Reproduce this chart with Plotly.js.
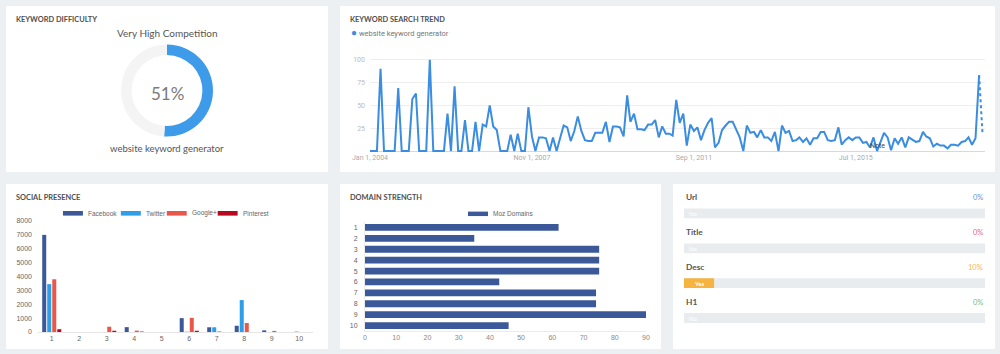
<!DOCTYPE html>
<html><head><meta charset="utf-8">
<script src="https://cdn.plot.ly/plotly-3.0.1.min.js"></script>
<style>
html,body{margin:0;padding:0;background:#edf0f3;width:1000px;height:354px;overflow:hidden;}
.panel{position:absolute;background:#fff;}
</style></head><body>
<div id="p1" class="panel" style="left:6px;top:6px;width:322px;height:166px"></div>
<div id="p2" class="panel" style="left:340px;top:6px;width:655px;height:166px"></div>
<div id="p3" class="panel" style="left:6px;top:184px;width:322px;height:165px"></div>
<div id="p4" class="panel" style="left:340px;top:184px;width:321px;height:165px"></div>
<div id="p5" class="panel" style="left:673px;top:184px;width:322px;height:165px"></div>
<script>
// ---------------- DATA ----------------
const keyword = 'website keyword generator';
const difficultyValue = 51;
const difficultyLabel = 'Very High Competition';

const trendStart = {year: 2004, month: 1};
const trendValues = [
 0,0,0,90,0,0,0,0,69,0,0,0,57,63,0,0,0,100,0,0,0,0,41,0,71,0,0,34,0,0,
 32,0,29,27,50,27,23,0,0,0,18,0,19,0,0,48,16,0,15,15,14,0,15,0,14,28,26,11,22,38,
 22,12,11,11,20,20,20,32,10,27,27,26,16,61,32,41,24,24,23,29,29,34,15,27,19,19,17,56,31,41,
 6,29,22,26,12,23,31,36,4,9,23,28,32,32,23,15,0,28,20,21,15,23,15,15,11,21,0,28,20,22,
 11,12,15,10,14,7,14,14,21,21,12,11,12,26,7,12,15,12,15,15,9,10,4,15,0,10,20,15,1,14,
 8,15,4,15,12,10,11,21,16,14,5,8,6,6,3,7,7,6,10,11,15,7,14,83,18
];
const trendPartialCount = 1; // last value is partial (dotted)
const trendTickDates = ['2004-01-01','2007-11-01','2011-09-01','2015-07-01'];
const trendTickLabels = ['Jan 1, 2004','Nov 1, 2007','Sep 1, 2011','Jul 1, 2015'];
const trendNoteDate = '2016-01-01';

const socialCategories = ['1','2','3','4','5','6','7','8','9','10'];
const socialFacebook  = [7000,0,0,350,0,1000,340,450,120,0];
const socialTwitter   = [3450,0,0,0,0,20,340,2300,0,30];
const socialGooglePlus= [3800,0,380,100,0,1020,40,650,80,0];
const socialPinterest = [200,0,90,30,0,90,0,0,0,0];
const socialNames = ['Facebook','Twitter','Google+','Pinterest'];

const domainCategories = ['1','2','3','4','5','6','7','8','9','10'];
const domainValues = [62,35,75,75,75,43,74,74,90,46];
const domainSeriesName = 'Moz Domains';

const seoLabels = ['Url','Title','Desc','H1'];
const seoPercent = [0,0,10,0];
const seoAnswers = ['No','No','Yes','No'];

// ---------------- STYLE ----------------
const FONT = 'Lato, "Open Sans", sans-serif';
const CJS = '"Liberation Sans", Arial, sans-serif';
const titleFont = {family: FONT, size: 7.4, color: '#505050', weight: 700};
const socialColors = ['#3b5998','#2d9ee8','#e9574a','#b8081f'];
const seoColors = ['#5b9bd8','#e8608d','#f5b94a','#7dba7d'];
const cfg = {staticPlot: true, displayModeBar: false};

function panelTitle(text, W, H) {
  return {text: text, font: titleFont, x: 10/W, xanchor: 'left', y: (H-13)/H, yanchor: 'middle'};
}
function pxToPaper(m, W, H, px, py) {
  return {x: (px - m.l)/(W - m.l - m.r), y: (H - m.b - py)/(H - m.t - m.b)};
}

// ---------------- PANEL 1: donut ----------------
(function(){
  const W = 322, H = 166;
  const cx = 161, cy = 84.5, r = 46;
  Plotly.newPlot('p1', [{
    type: 'pie', values: [difficultyValue, 100 - difficultyValue],
    marker: {colors: ['#3d9be9', '#f4f4f4'], line: {width: 0}},
    hole: 0.77, sort: false, direction: 'clockwise', rotation: 0,
    textinfo: 'none', hoverinfo: 'none', showlegend: false,
    domain: {x: [(cx-r)/W, (cx+r)/W], y: [(H-cy-r)/H, (H-cy+r)/H]}
  }], {
    width: W, height: H, margin: {l:0,r:0,t:0,b:0},
    paper_bgcolor: '#fff', title: panelTitle('KEYWORD DIFFICULTY', W, H),
    annotations: [
      {text: difficultyLabel, x: cx/W, y: (H-27)/H, xref:'paper', yref:'paper', yanchor:'middle', showarrow:false,
       font: {family: FONT, size: 10, color: '#555'}},
      {text: difficultyValue + '%', x: cx/W, y: (H-cy-2.5)/H, xref:'paper', yref:'paper', yanchor:'middle', showarrow:false,
       font: {family: FONT, size: 17, color: '#7a7a7a'}},
      {text: keyword, x: cx/W, y: (H-142)/H, xref:'paper', yref:'paper', yanchor:'middle', showarrow:false,
       font: {family: FONT, size: 9.5, color: '#555'}}
    ]
  }, cfg);
})();

// ---------------- PANEL 2: trend ----------------
(function(){
  const W = 655, H = 166;
  const m = {l: 30, r: 10, t: 51.3, b: 20.1};
  const dates = trendValues.map((v, i) => {
    const tot = trendStart.month - 1 + i;
    const y = trendStart.year + Math.floor(tot/12), mo = tot % 12 + 1;
    return y + '-' + String(mo).padStart(2,'0') + '-01';
  });
  const nSolid = trendValues.length - trendPartialCount;
  const lineColor = '#3a8de0';
  const lg = pxToPaper(m, W, H, 9, 27);
  Plotly.newPlot('p2', [
    {type:'scatter', mode:'lines', x: dates.slice(0, nSolid), y: trendValues.slice(0, nSolid),
     line: {color: lineColor, width: 2}, name: keyword, showlegend: false, hoverinfo:'none'},
    {type:'scatter', mode:'lines', x: dates.slice(nSolid-1), y: trendValues.slice(nSolid-1),
     line: {color: lineColor, width: 2, dash: 'dot'}, showlegend: false, hoverinfo:'none'}
  ], {
    width: W, height: H, margin: m, paper_bgcolor:'#fff', plot_bgcolor:'#fff',
    title: panelTitle('KEYWORD SEARCH TREND', W, H),
    xaxis: {type:'date', range:['2004-01-01','2018-07-22'], tickvals: trendTickDates, ticktext: trendTickLabels,
            showgrid:false, zeroline:false, showline:false, ticks:'',
            tickfont:{family:'Roboto, sans-serif', size:7, color:'#aaa'}},
    yaxis: {range:[-1,103], tickvals:[25,50,75,100], gridcolor:'#eeeeee', gridwidth:1,
            zeroline:true, zerolinecolor:'#d9d9d9', zerolinewidth:1, showline:false, ticks:'',
            ticklabelstandoff: 4, tickfont:{family:'Roboto, sans-serif', size:7, color:'#bbb'}},
    annotations: [
      {text: '<span style="color:' + lineColor + ';font-size:10px">●</span> ' + keyword, xref:'paper', yref:'paper',
       x: lg.x, y: lg.y, xanchor:'left', yanchor:'middle', showarrow:false,
       font:{family:'Roboto, sans-serif', size:7.5, color:'#777'}},
      {text:'Note', xref:'x', yref:'y', x: trendNoteDate, y: 6, yanchor:'middle', showarrow:false,
       font:{family:'Roboto, sans-serif', size:7, color:'#444'}}
    ]
  }, cfg);
})();

// ---------------- PANEL 3: social presence ----------------
(function(){
  const W = 322, H = 165;
  const m = {l: 32, r: 14.5, t: 36.7, b: 17};
  const series = [socialFacebook, socialTwitter, socialGooglePlus, socialPinterest];
  const traces = series.map((vals, i) => ({
    type:'bar', x: socialCategories, y: vals, name: socialNames[i],
    marker:{color: socialColors[i]}, showlegend:false, hoverinfo:'none'
  }));
  const legendBoxX = [57, 115, 161, 212];
  const shapes = [], annotations = [];
  legendBoxX.forEach((bx, i) => {
    const a = pxToPaper(m, W, H, bx, 26.7), b = pxToPaper(m, W, H, bx + 20, 31.3);
    shapes.push({type:'rect', xref:'paper', yref:'paper', x0:a.x, x1:b.x, y0:b.y, y1:a.y,
                 fillcolor: socialColors[i], line:{width:0}});
    const t = pxToPaper(m, W, H, bx + 23, 29);
    annotations.push({text: socialNames[i], xref:'paper', yref:'paper', x:t.x, y:t.y,
                      xanchor:'left', yanchor:'middle', showarrow:false,
                      font:{family:CJS, size:6.5, color:'#666'}});
  });
  Plotly.newPlot('p3', traces, {
    width: W, height: H, margin: m, paper_bgcolor:'#fff', plot_bgcolor:'#fff',
    title: panelTitle('SOCIAL PRESENCE', W, H),
    barmode:'group', bargap: 0.27, bargroupgap: 0.2,
    xaxis:{type:'category', showgrid:false, zeroline:false, showline:true, linecolor:'#e6e6e6', ticks:'',
           tickfont:{family:CJS, size:7, color:'#666'}},
    yaxis:{range:[0,8000], dtick:1000, tickformat:'d', showgrid:false, zeroline:false, showline:false,
           ticks:'', ticklabelstandoff: 5, tickfont:{family:CJS, size:7, color:'#666'}},
    shapes: shapes, annotations: annotations
  }, cfg);
})();

// ---------------- PANEL 4: domain strength ----------------
(function(){
  const W = 321, H = 165;
  const m = {l: 25, r: 15, t: 37.5, b: 17.5};
  const color = '#3b5998';
  const a = pxToPaper(m, W, H, 128, 27), b = pxToPaper(m, W, H, 148, 31.5), t = pxToPaper(m, W, H, 151, 29.2);
  Plotly.newPlot('p4', [{
    type:'bar', orientation:'h', y: domainCategories, x: domainValues, name: domainSeriesName,
    marker:{color: color}, showlegend:false, hoverinfo:'none'
  }], {
    width: W, height: H, margin: m, paper_bgcolor:'#fff', plot_bgcolor:'#fff',
    title: panelTitle('DOMAIN STRENGTH', W, H),
    bargap: 0.38,
    xaxis:{range:[0,90], dtick:10, showgrid:false, zeroline:false, showline:true, linecolor:'#ececec', ticks:'',
           tickfont:{family:CJS, size:7, color:'#888'}},
    yaxis:{type:'category', autorange:'reversed', showgrid:false, zeroline:false, showline:true, linecolor:'#ececec',
           ticks:'', ticklabelstandoff: 5, tickfont:{family:CJS, size:7, color:'#666'}},
    shapes:[{type:'rect', xref:'paper', yref:'paper', x0:a.x, x1:b.x, y0:b.y, y1:a.y, fillcolor:color, line:{width:0}}],
    annotations:[{text: domainSeriesName, xref:'paper', yref:'paper', x:t.x, y:t.y, xanchor:'left', yanchor:'middle',
                  showarrow:false, font:{family:CJS, size:6.5, color:'#666'}}]
  }, cfg);
})();

// ---------------- PANEL 5: on-page SEO progress ----------------
(function(){
  const W = 322, H = 165;
  const m = {l: 11, r: 10, t: 11.8, b: 7.8};
  const full = 100;
  const annotations = [];
  seoLabels.forEach((lab, i) => {
    annotations.push({text: lab, xref:'x', yref:'y', x: 0, y: lab, yshift: 16, xanchor:'left', yanchor:'middle',
                      showarrow:false, font:{family:FONT, size:8.3, color:'#555', weight:700}});
    annotations.push({text: seoPercent[i] + '%', xref:'x', yref:'y', x: full, y: lab, yshift: 16, xanchor:'right',
                      yanchor:'middle', showarrow:false, font:{family:FONT, size:7.5, color: seoColors[i]}});
    const filled = seoPercent[i] > 0;
    annotations.push({text: seoAnswers[i], xref:'x', yref:'y', x: filled ? seoPercent[i]/2 : 0, y: lab,
                      xanchor: filled ? 'center' : 'left', xshift: filled ? 0 : 3, yanchor:'middle', showarrow:false,
                      font:{family:FONT, size:6, color:'#ffffff', weight: filled ? 700 : 400}});
  });
  Plotly.newPlot('p5', [
    {type:'bar', orientation:'h', y: seoLabels, x: seoLabels.map(() => full), marker:{color:'#e9ecef'},
     showlegend:false, hoverinfo:'none'},
    {type:'bar', orientation:'h', y: seoLabels, x: seoPercent, marker:{color:'#f6b33f'},
     showlegend:false, hoverinfo:'none'}
  ], {
    width: W, height: H, margin: m, paper_bgcolor:'#fff', plot_bgcolor:'#fff',
    barmode:'overlay', bargap: 0.72,
    xaxis:{range:[0,full], showgrid:false, zeroline:false, showline:false, showticklabels:false, ticks:''},
    yaxis:{type:'category', categoryorder:'array', categoryarray: seoLabels, autorange:'reversed',
           showgrid:false, zeroline:false, showline:false, showticklabels:false, ticks:''},
    annotations: annotations
  }, cfg);
})();
</script>
</body></html>
